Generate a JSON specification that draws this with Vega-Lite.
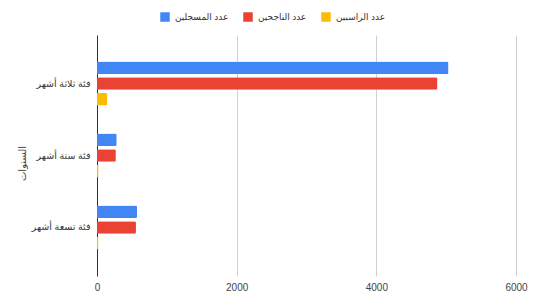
{
  "$schema": "https://vega.github.io/schema/vega-lite/v6.json",
  "autosize": "none",
  "width": 419,
  "height": 241,
  "padding": {"left": 97, "top": 35, "right": 29, "bottom": 32},
  "background": "white",
  "config": {
    "font": "Liberation Sans, Arial, DejaVu Sans",
    "view": {"stroke": null}
  },
  "data": {
    "values": [
      {"category": "فئة ثلاثة أشهر", "series": "عدد المسجلين", "value": 5033},
      {"category": "فئة ثلاثة أشهر", "series": "عدد الناجحين", "value": 4875},
      {"category": "فئة ثلاثة أشهر", "series": "عدد الراسبين", "value": 148},
      {"category": "فئة ستة أشهر", "series": "عدد المسجلين", "value": 282},
      {"category": "فئة ستة أشهر", "series": "عدد الناجحين", "value": 270},
      {"category": "فئة ستة أشهر", "series": "عدد الراسبين", "value": 22},
      {"category": "فئة تسعة أشهر", "series": "عدد المسجلين", "value": 573},
      {"category": "فئة تسعة أشهر", "series": "عدد الناجحين", "value": 558},
      {"category": "فئة تسعة أشهر", "series": "عدد الراسبين", "value": 20}
    ]
  },
  "mark": {"type": "bar", "cornerRadiusEnd": 1.5},
  "encoding": {
    "y": {
      "field": "category",
      "type": "nominal",
      "sort": ["فئة ثلاثة أشهر", "فئة ستة أشهر", "فئة تسعة أشهر"],
      "scale": {"paddingInner": 0.39, "paddingOuter": 0.37},
      "axis": {
        "title": "السنوات",
        "titleAngle": -90,
        "titleX": -75,
        "titleY": 128,
        "titleAlign": "center",
        "titleBaseline": "middle",
        "titleFontSize": 10,
        "titleFontWeight": "normal",
        "titleColor": "#444444",
        "labelFontSize": 9.5,
        "labelColor": "#333333",
        "labelPadding": 7,
        "labelLimit": 200,
        "ticks": false,
        "domainColor": "#333333",
        "domainWidth": 1
      }
    },
    "x": {
      "field": "value",
      "type": "quantitative",
      "scale": {"domain": [0, 6000], "nice": false},
      "axis": {
        "title": null,
        "values": [0, 2000, 4000, 6000],
        "format": "d",
        "labelFontSize": 10,
        "labelColor": "#444444",
        "labelPadding": 6,
        "ticks": false,
        "domain": false,
        "gridColor": "#d0d0d0",
        "labelFlush": false
      }
    },
    "yOffset": {
      "field": "series",
      "type": "nominal",
      "sort": ["عدد المسجلين", "عدد الناجحين", "عدد الراسبين"],
      "scale": {"paddingInner": 0.2}
    },
    "color": {
      "field": "series",
      "type": "nominal",
      "sort": ["عدد المسجلين", "عدد الناجحين", "عدد الراسبين"],
      "scale": {
        "domain": ["عدد المسجلين", "عدد الناجحين", "عدد الراسبين"],
        "range": ["#4285F4", "#EA4335", "#FBBC04"]
      },
      "legend": {
        "title": null,
        "orient": "none",
        "direction": "horizontal",
        "legendX": 63,
        "legendY": -23,
        "symbolType": "square",
        "symbolSize": 90,
        "symbolStrokeWidth": 0,
        "symbolOpacity": 1,
        "labelFontSize": 9,
        "labelColor": "#333333",
        "columnPadding": 14,
        "labelOffset": 5,
        "labelLimit": 200
      }
    }
  }
}
